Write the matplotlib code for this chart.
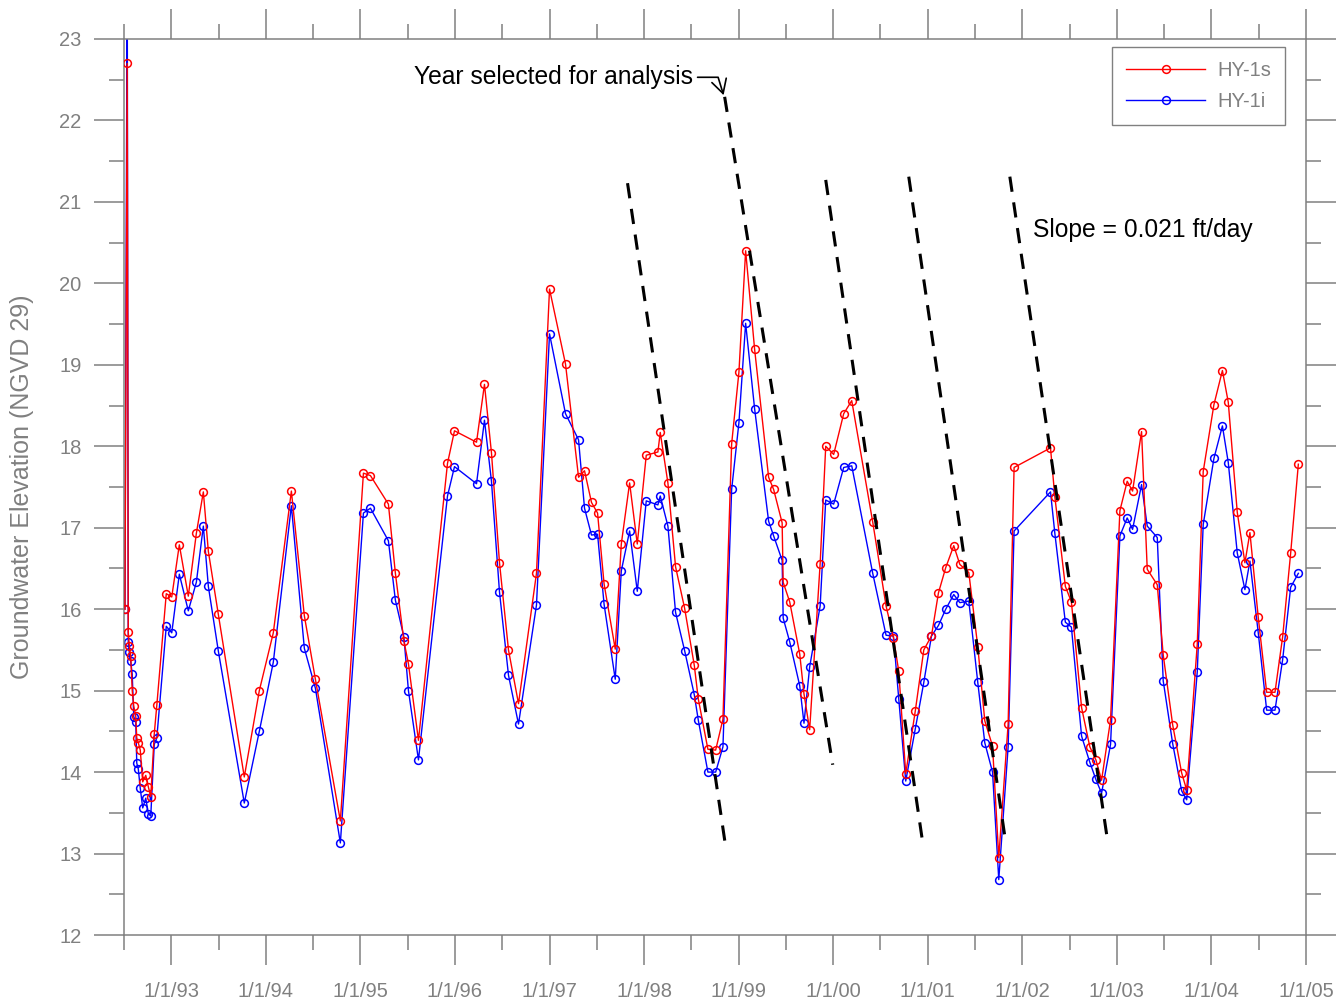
import matplotlib
matplotlib.use("Agg")
import matplotlib.pyplot as plt
from matplotlib.ticker import FixedLocator, MultipleLocator

plt.rcParams['font.family'] = ['Liberation Sans', 'DejaVu Sans']

# sample dates as decimal years
dates = [
    1992.510, 1992.534, 1992.545, 1992.556, 1992.571, 1992.587, 1992.603, 1992.624,
    1992.635, 1992.651, 1992.672, 1992.698, 1992.730, 1992.757, 1992.783, 1992.820,
    1992.847, 1992.947, 1993.005, 1993.085, 1993.180, 1993.265, 1993.339, 1993.392,
    1993.497, 1993.772, 1993.931, 1994.079, 1994.270, 1994.407, 1994.524, 1994.788,
    1995.032, 1995.106, 1995.296, 1995.370, 1995.460, 1995.508, 1995.614, 1995.921,
    1995.995, 1996.228, 1996.312, 1996.386, 1996.471, 1996.566, 1996.672, 1996.862,
    1997.000, 1997.169, 1997.307, 1997.370, 1997.444, 1997.508, 1997.577, 1997.695,
    1997.759, 1997.847, 1997.928, 1998.023, 1998.146, 1998.171, 1998.252, 1998.333,
    1998.429, 1998.531, 1998.573, 1998.675, 1998.757, 1998.834, 1998.926, 1999.003,
    1999.074, 1999.169, 1999.317, 1999.370, 1999.460, 1999.471, 1999.540, 1999.646,
    1999.691, 1999.751, 1999.862, 1999.921, 2000.005, 2000.111, 2000.196, 2000.418,
    2000.559, 2000.637, 2000.693, 2000.767, 2000.868, 2000.958, 2001.039, 2001.113,
    2001.190, 2001.275, 2001.339, 2001.434, 2001.529, 2001.603, 2001.685, 2001.751,
    2001.850, 2001.913, 2002.298, 2002.344, 2002.455, 2002.519, 2002.627, 2002.714,
    2002.778, 2002.838, 2002.933, 2003.032, 2003.109, 2003.166, 2003.261, 2003.321,
    2003.427, 2003.490, 2003.590, 2003.685, 2003.738, 2003.850, 2003.913, 2004.026,
    2004.116, 2004.178, 2004.273, 2004.354, 2004.407, 2004.495, 2004.584, 2004.672,
    2004.753, 2004.838, 2004.919,
]

hy1s = [
    16.00, 22.70, 15.72, 15.55, 15.42, 15.00, 14.81, 14.69,
    14.42, 14.36, 14.27, 13.88, 13.96, 13.82, 13.70, 14.47,
    14.82, 16.19, 16.15, 16.79, 16.16, 16.93, 17.44, 16.71,
    15.94, 13.94, 15.00, 15.71, 17.45, 15.92, 15.14, 13.40,
    17.67, 17.64, 17.29, 16.44, 15.61, 15.33, 14.39, 17.79,
    18.19, 18.05, 18.76, 17.92, 16.57, 15.50, 14.84, 16.44,
    19.93, 19.01, 17.62, 17.70, 17.31, 17.18, 16.31, 15.51,
    16.80, 17.55, 16.80, 17.89, 17.93, 18.17, 17.55, 16.52,
    16.01, 15.31, 14.90, 14.28, 14.27, 14.65, 18.03, 18.91,
    20.40, 19.19, 17.62, 17.47, 17.06, 16.33, 16.09, 15.45,
    14.96, 14.52, 16.56, 18.00, 17.90, 18.40, 18.56, 17.07,
    16.04, 15.65, 15.24, 13.98, 14.75, 15.50, 15.67, 16.20,
    16.51, 16.78, 16.55, 16.45, 15.54, 14.63, 14.32, 12.95,
    14.59, 17.74, 17.98, 17.38, 16.28, 16.09, 14.79, 14.31,
    14.15, 13.90, 14.64, 17.21, 17.57, 17.45, 18.18, 16.49,
    16.30, 15.44, 14.58, 13.99, 13.78, 15.57, 17.69, 18.51,
    18.93, 18.54, 17.19, 16.57, 16.94, 15.90, 14.98, 14.98,
    15.66, 16.69, 17.78,
]

hy1i = [
    16.00, 24.00, 15.60, 15.47, 15.36, 15.20, 14.68, 14.62,
    14.11, 14.04, 13.80, 13.56, 13.68, 13.49, 13.46, 14.34,
    14.42, 15.79, 15.71, 16.43, 15.98, 16.33, 17.02, 16.28,
    15.49, 13.62, 14.50, 15.35, 17.27, 15.52, 15.03, 13.13,
    17.18, 17.24, 16.84, 16.11, 15.66, 15.00, 14.15, 17.39,
    17.75, 17.54, 18.32, 17.57, 16.21, 15.19, 14.59, 16.05,
    19.38, 18.40, 18.08, 17.24, 16.91, 16.92, 16.06, 15.14,
    16.47, 16.96, 16.22, 17.33, 17.28, 17.39, 17.02, 15.96,
    15.49, 14.95, 14.64, 14.00, 14.00, 14.31, 17.47, 18.29,
    19.51, 18.46, 17.08, 16.90, 16.60, 15.89, 15.60, 15.06,
    14.60, 15.29, 16.04, 17.34, 17.29, 17.74, 17.76, 16.44,
    15.68, 15.67, 14.90, 13.89, 14.53, 15.10, 15.67, 15.80,
    16.00, 16.18, 16.08, 16.10, 15.10, 14.36, 14.00, 12.68,
    14.31, 16.96, 17.44, 16.93, 15.84, 15.78, 14.44, 14.12,
    13.91, 13.74, 14.34, 16.90, 17.12, 16.98, 17.53, 17.02,
    16.88, 15.12, 14.35, 13.77, 13.66, 15.23, 17.04, 17.85,
    18.25, 17.80, 16.69, 16.24, 16.59, 15.71, 14.76, 14.76,
    15.38, 16.27, 16.44,
]

# recession trend lines (slope ~0.021 ft/day)
trend_start_dates = [1997.825, 1998.852, 1999.921, 2000.799, 2001.868]
trend_start_vals = [21.23, 22.29, 21.27, 21.31, 21.31]
trend_end_dates = [1998.862, 1999.995, 2000.947, 2001.825, 2002.905]
trend_end_vals = [13.09, 14.09, 13.13, 13.13, 13.13]

tick_years = list(range(1993, 2006))
tick_labels = ['1/1/93', '1/1/94', '1/1/95', '1/1/96', '1/1/97', '1/1/98', '1/1/99',
               '1/1/00', '1/1/01', '1/1/02', '1/1/03', '1/1/04', '1/1/05']

GRAY = '#808080'

fig = plt.figure(figsize=(13.41, 10.08), dpi=100)
ax = fig.add_axes([0.09247, 0.07242, 0.88143, 0.88889])

ax.plot(dates, hy1s, color='#ff0000', lw=1.0, marker='o', ms=5.6, mfc='none',
        mec='#ff0000', mew=1.1, label='HY-1s', zorder=3)
ax.plot(dates, hy1i, color='#0000ff', lw=1.0, marker='o', ms=5.6, mfc='none',
        mec='#0000ff', mew=1.1, label='HY-1i', zorder=2)

for x0, y0, x1, y1 in zip(trend_start_dates, trend_start_vals, trend_end_dates, trend_end_vals):
    ax.plot([x0, x1], [y0, y1], color='black', lw=2.2, dashes=(5, 3.5), zorder=4)

ax.set_xlim(1992.5, 2005.0)
ax.set_ylim(12, 23)

ax.xaxis.set_major_locator(FixedLocator(tick_years))
ax.set_xticklabels(tick_labels)
ax.xaxis.set_minor_locator(FixedLocator([y - 0.5 for y in tick_years]))
ax.yaxis.set_major_locator(MultipleLocator(1))
ax.yaxis.set_minor_locator(MultipleLocator(0.5))

ax.tick_params(which='both', direction='out', top=True, right=True,
               color=GRAY, labelcolor=GRAY, labelsize=14.5, width=1.1)
ax.tick_params(which='major', length=21.6)
ax.tick_params(which='minor', length=10.8)
ax.tick_params(axis='x', which='major', pad=12)
ax.tick_params(axis='y', which='major', pad=9)
for sp in ax.spines.values():
    sp.set_color(GRAY)
    sp.set_linewidth(1.1)

ax.set_ylabel('Groundwater Elevation (NGVD 29)', color=GRAY, fontsize=18)
ax.yaxis.set_label_coords(-0.0765, 0.5)

ax.annotate('Year selected for analysis', xy=(1998.841, 22.31), xytext=(1995.571, 22.53),
            ha='left', va='center', fontsize=17.7, color='black',
            arrowprops=dict(arrowstyle='->,head_length=0.55,head_width=0.3',
                            connectionstyle='angle,angleA=0,angleB=107,rad=0',
                            color='black', lw=1.2, mutation_scale=18,
                            shrinkA=1, shrinkB=0))

ax.text(2002.111, 20.655, 'Slope = 0.021 ft/day', ha='left', va='center',
        fontsize=17.7, color='black')

leg = ax.legend(loc='upper right', bbox_to_anchor=(0.9582, 0.9534),
                bbox_transform=fig.transFigure, borderaxespad=0, fancybox=False,
                edgecolor=GRAY, fontsize=14.5, handlelength=3.9, handletextpad=0.6,
                borderpad=0.7, labelspacing=0.6, framealpha=1)
leg.get_frame().set_linewidth(1.0)
for t in leg.get_texts():
    t.set_color(GRAY)

fig.savefig('out.png', dpi=100)
